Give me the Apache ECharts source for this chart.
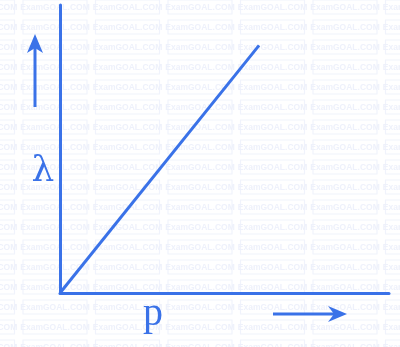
<!DOCTYPE html>
<html><head><meta charset="utf-8">
<script src="https://cdn.jsdelivr.net/npm/echarts@6/dist/echarts.min.js"></script>
<style>html,body{margin:0;padding:0;background:#fff}#c{width:400px;height:347px}</style>
</head><body><div id="c"></div>
<script>
const pValues = [0, 6.05];
const lambdaValues = [0, 8.6];
const xLabel = 'p';
const yLabel = 'λ';
const watermark = 'ExamGOAL.COM';

const blue = '#3a72e8';
const chart = echarts.init(document.getElementById('c'));

const wm = [];
for (let r = 0; r < 18; r++) {
  for (let c = -1; c < 6; c++) {
    const x = 23 + c * 72.5, y = 0 + r * 20;
    wm.push({type:'rect', silent:true, z:-10, shape:{x:x, y:y, width:64, height:14},
      style:{fill:'none', stroke:'#f0f3fc', lineWidth:1.2}});
    wm.push({type:'text', silent:true, z:-10, x:x+32, y:y+7.5,
      style:{text:watermark, fill:'#eef1fb', font:'bold 8.5px "Liberation Sans", Arial', align:'center', verticalAlign:'middle'}});
  }
}

chart.setOption({
  animation:false,
  backgroundColor:'#fff',
  grid:{left:60, right:11, top:5, bottom:54},
  xAxis:{type:'value', min:0, max:10, axisLine:{show:true, lineStyle:{color:blue, width:3}},
    axisTick:{show:false}, axisLabel:{show:false}, splitLine:{show:false}},
  yAxis:{type:'value', min:0, max:10, axisLine:{show:true, lineStyle:{color:blue, width:3}},
    axisTick:{show:false}, axisLabel:{show:false}, splitLine:{show:false}},
  series:[{type:'line', data:pValues.map((p,i)=>[p, lambdaValues[i]]), showSymbol:false,
    lineStyle:{color:blue, width:3}}],
  graphic: wm.concat([
    {type:'line', shape:{x1:35, y1:107, x2:35, y2:48}, style:{stroke:blue, lineWidth:3}},
    {type:'polygon', shape:{points:[[35,34],[43,53],[35,48],[27,53]]}, style:{fill:blue}},
    {type:'line', shape:{x1:273, y1:314, x2:334, y2:314}, style:{stroke:blue, lineWidth:3}},
    {type:'polygon', shape:{points:[[347,314],[328,322],[334,314],[328,306]]}, style:{fill:blue}},
    {type:'text', x:43, y:172, style:{text:yLabel, fill:blue, font:'36px "DejaVu Serif", "Liberation Serif", serif', align:'center', verticalAlign:'middle'}},
    {type:'text', x:153, y:314, style:{text:xLabel, fill:blue, font:'40px "Liberation Serif", "DejaVu Serif", serif', align:'center', verticalAlign:'middle'}}
  ])
});
</script></body></html>
